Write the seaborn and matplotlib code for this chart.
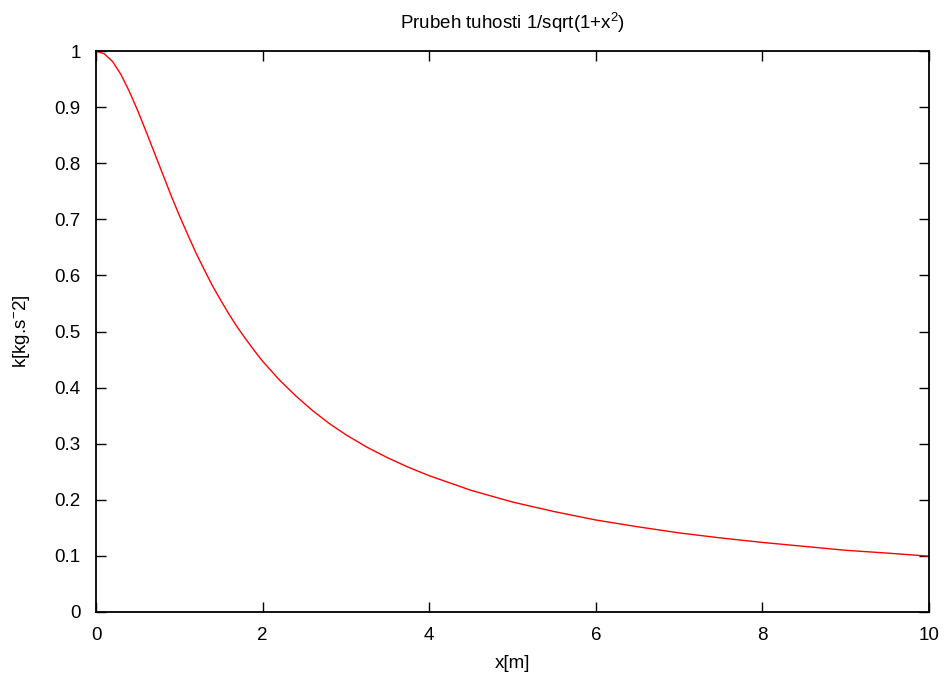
import matplotlib
matplotlib.use("Agg")
import matplotlib.pyplot as plt
import seaborn as sns
import pandas as pd

x_m = [0.0, 0.1, 0.2, 0.3, 0.4, 0.5, 0.6, 0.7, 0.8, 0.9,
       1.0, 1.1, 1.2, 1.3, 1.4, 1.5, 1.6, 1.7, 1.8, 1.9,
       2.0, 2.2, 2.4, 2.6, 2.8, 3.0, 3.25, 3.5, 3.75, 4.0,
       4.5, 5.0, 5.5, 6.0, 6.5, 7.0, 7.5, 8.0, 8.5, 9.0, 9.5, 10.0]
k_val = [1.0, 0.995, 0.981, 0.958, 0.928, 0.894, 0.857, 0.819, 0.781, 0.743,
         0.707, 0.673, 0.640, 0.610, 0.581, 0.555, 0.530, 0.507, 0.486, 0.466,
         0.447, 0.414, 0.385, 0.359, 0.336, 0.316, 0.294, 0.275, 0.258, 0.243,
         0.217, 0.196, 0.179, 0.164, 0.152, 0.141, 0.132, 0.124, 0.117, 0.110, 0.105, 0.0995]
x_ticks = [0, 2, 4, 6, 8, 10]
y_ticks = [0, 0.1, 0.2, 0.3, 0.4, 0.5, 0.6, 0.7, 0.8, 0.9, 1]

df = pd.DataFrame({"x": x_m, "k": k_val})

sns.set_style("ticks")
plt.rcParams["font.family"] = ["Liberation Sans", "DejaVu Sans"]
plt.rcParams["mathtext.fontset"] = "custom"
plt.rcParams["mathtext.rm"] = "Liberation Sans"
plt.rcParams["mathtext.it"] = "Liberation Sans"
plt.rcParams["text.color"] = "black"
plt.rcParams["axes.labelcolor"] = "black"

fig = plt.figure(figsize=(9.46, 6.73), dpi=100)
ax = fig.add_axes([96 / 946, 1 - 612 / 673, (929 - 96) / 946, (612 - 51) / 673])

sns.lineplot(data=df, x="x", y="k", color="red", linewidth=1.0, ax=ax)

ax.set_xlim(0, 10)
ax.set_ylim(0, 1)
ax.set_xticks(x_ticks)
ax.set_xticklabels([str(t) for t in x_ticks])
ax.set_yticks(y_ticks)
ax.set_yticklabels(["0", "0.1", "0.2", "0.3", "0.4", "0.5", "0.6", "0.7", "0.8", "0.9", "1"])
ax.tick_params(direction="in", length=7, width=1, top=True, right=True,
               labelsize=13.5, pad=11, colors="black")
for s in ax.spines.values():
    s.set_visible(True)
    s.set_linewidth(1.3)
    s.set_color("black")

ax.set_title("Prubeh tuhosti 1/sqrt(1+x$^2$)", fontsize=13.5, pad=16, color="black")
ax.set_xlabel("x[m]", fontsize=13.5, labelpad=8, color="black")
ax.set_ylabel("k[kg.s$^{-}$2]", fontsize=13.5, labelpad=16, color="black")

fig.savefig("out.png", dpi=100)
